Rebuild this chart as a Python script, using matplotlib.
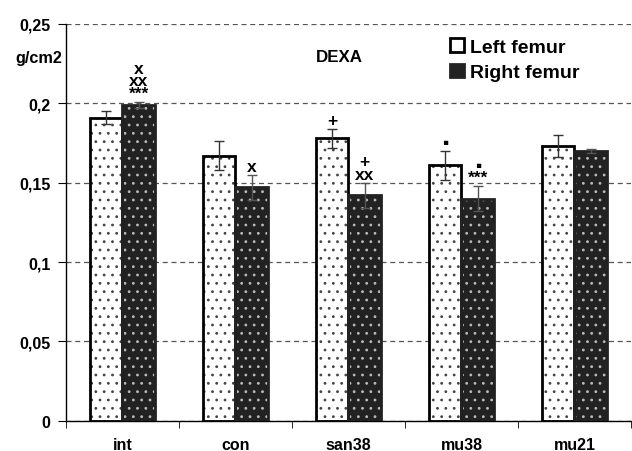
import matplotlib
matplotlib.use("agg")

import matplotlib.pyplot as plt
import numpy as np
from matplotlib.patches import Patch

# Data
groups = ["int", "con", "san38", "mu38", "mu21"]
left_femur = [0.191, 0.167, 0.178, 0.161, 0.173]
left_err = [0.004, 0.009, 0.006, 0.009, 0.007]
right_femur = [0.199, 0.147, 0.142, 0.140, 0.170]
right_err = [0.002, 0.008, 0.008, 0.008, 0.001]
# significance marks, listed from the bar upwards
left_marks = [[], [], ["+"], ["\u25aa"], []]
right_marks = [["***", "xx", "x"], ["x"], ["xx", "+"], ["***", "\u25aa"], []]
yticks = [0, 0.05, 0.1, 0.15, 0.2, 0.25]
ytick_labels = ["0", "0,05", "0,1", "0,15", "0,2", "0,25"]

plt.rcParams["font.family"] = ["Liberation Sans", "DejaVu Sans"]
plt.rcParams["hatch.linewidth"] = 0.8

fig = plt.figure(figsize=(6.32, 4.52), dpi=100)
ax = fig.add_axes([0.1044, 0.067, 0.894, 0.8777])

x = np.arange(len(groups))
w = 0.29
dark = "#222222"

ax.set_axisbelow(True)
ax.yaxis.grid(True, linestyle=(0, (4, 3)), color="#555555", linewidth=0.9)

# left bars: white with dark dots
ax.bar(x - w / 2, left_femur, w, color="white", edgecolor="#444444",
       hatch="..", linewidth=0, zorder=2)
ax.bar(x - w / 2, left_femur, w, fill=False, edgecolor="black",
       linewidth=2.0, zorder=3)
# right bars: dark with light dots
ax.bar(x + w / 2, right_femur, w, color=dark, edgecolor="#bbbbbb",
       hatch="..", linewidth=0, zorder=2)
ax.bar(x + w / 2, right_femur, w, fill=False, edgecolor=dark,
       linewidth=2.0, zorder=3)

ax.errorbar(x - w / 2, left_femur, yerr=left_err, fmt="none",
            ecolor="#333333", elinewidth=1, capsize=3.5, zorder=4)
ax.errorbar(x + w / 2, right_femur, yerr=right_err, fmt="none",
            ecolor="#555555", elinewidth=1, capsize=3.5, zorder=4)


def put_marks(xpos, top, marks):
    if not marks:
        return
    ax.annotate("\n".join(marks[::-1]), (xpos, top), xytext=(0, 0.5),
                textcoords="offset points", ha="center", va="bottom",
                fontsize=12.5, fontweight="bold", linespacing=0.8)


for i in range(len(groups)):
    put_marks(x[i] - w / 2, left_femur[i] + left_err[i], left_marks[i])
    put_marks(x[i] + w / 2, right_femur[i] + right_err[i], right_marks[i])

ax.set_xlim(-0.5, len(groups) - 0.5)
ax.set_ylim(0, 0.25)
ax.set_yticks(yticks)
ax.set_yticklabels(ytick_labels, fontsize=11.5, fontweight="bold")
ax.set_xticks(x)
ax.set_xticklabels(groups, fontsize=11.5, fontweight="bold")
ax.tick_params(axis="x", length=0, pad=12)
ax.set_xticks(np.arange(len(groups) + 1) - 0.5, minor=True)
ax.tick_params(axis="x", which="minor", length=5, direction="out")
ax.tick_params(axis="y", length=6, direction="out", pad=5)

for s in ["top", "right"]:
    ax.spines[s].set_visible(False)
ax.spines["left"].set_linewidth(1)
ax.spines["bottom"].set_linewidth(1)

ax.text(-0.743, 0.2287, "g/cm2", fontsize=11.7, fontweight="bold",
        ha="center", va="center")
ax.text(1.92, 0.2293, "DEXA", fontsize=12.2, fontweight="bold",
        ha="center", va="center")

handles = [Patch(facecolor="white", edgecolor="black", linewidth=2),
           Patch(facecolor=dark, edgecolor=dark, linewidth=2)]
leg = fig.legend(handles, ["Left femur", "Right femur"], loc="upper left",
                 bbox_to_anchor=(0.685, 0.952), frameon=False,
                 prop={"size": 14, "weight": "bold"},
                 handlelength=0.7, handleheight=0.7, handletextpad=0.3,
                 labelspacing=0.4)

fig.savefig("out.png", dpi=100)
